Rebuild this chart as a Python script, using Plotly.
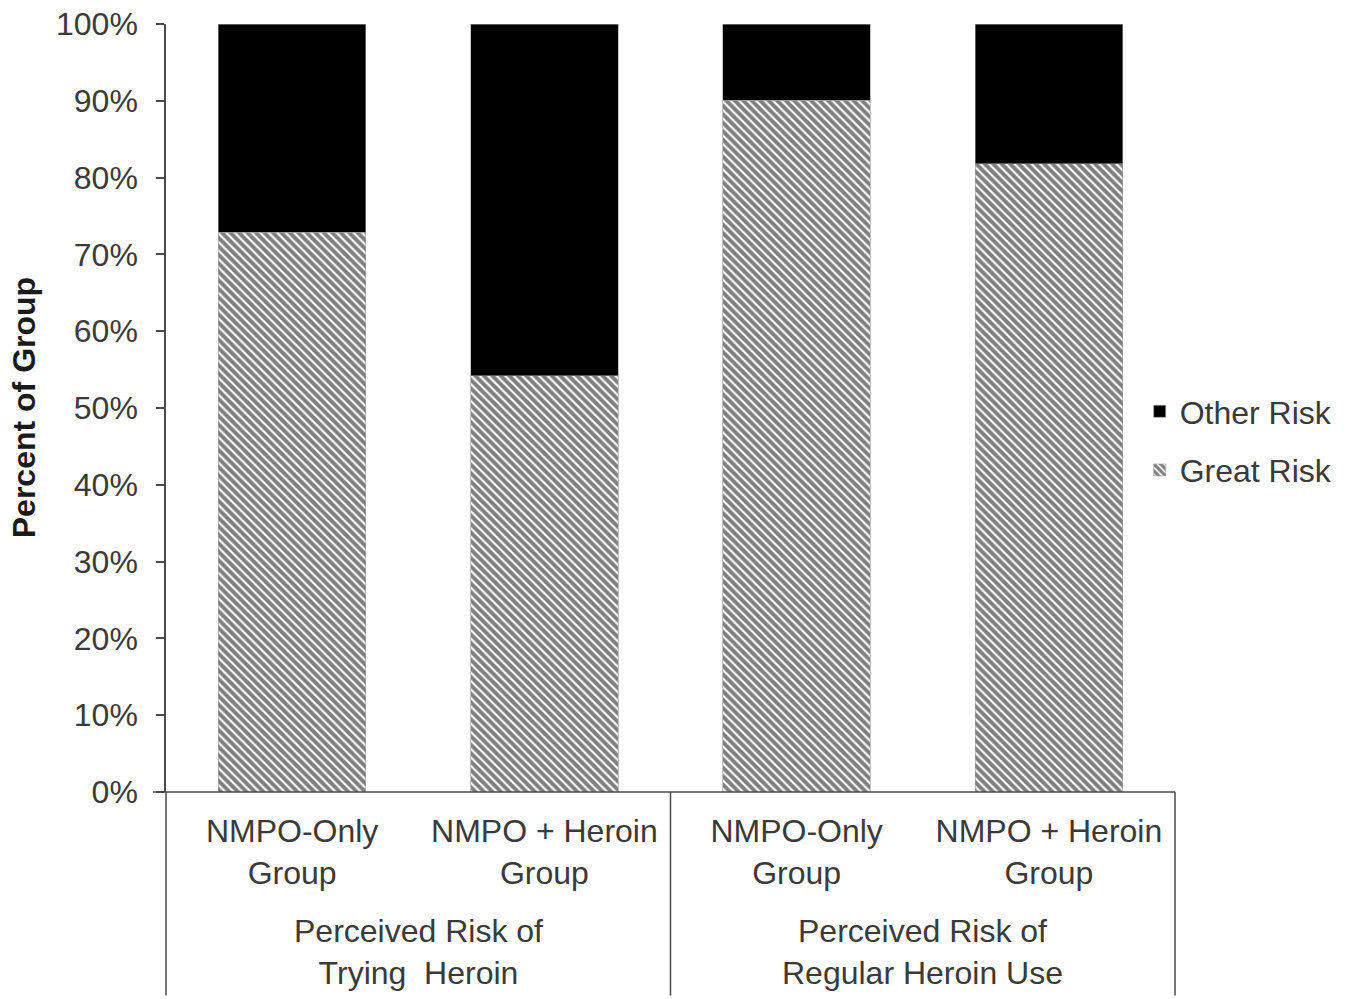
import plotly.graph_objects as go

groups = ["Perceived Risk of<br>Trying  Heroin", "Perceived Risk of<br>Regular Heroin Use"]
subgroups = ["NMPO-Only<br>Group", "NMPO + Heroin<br>Group", "NMPO-Only<br>Group", "NMPO + Heroin<br>Group"]
group_of_bar = [0, 0, 1, 1]
great_risk = [72.9, 54.2, 90.1, 81.8]
other_risk = [round(100 - v, 1) for v in great_risk]
y_ticks = [0, 10, 20, 30, 40, 50, 60, 70, 80, 90, 100]

xpos = list(range(len(subgroups)))
FONT = "Liberation Sans, Arial, sans-serif"
TXT = "#3a3a3a"
LINE = "#4a4a4a"
FS = 32

fig = go.Figure()
fig.add_trace(go.Bar(
    x=xpos, y=great_risk, name="Great Risk", width=0.585,
    marker=dict(color="white", line=dict(color="#9a9a9a", width=0.6),
                pattern=dict(shape="\\", fgcolor="black", bgcolor="white", size=6, solidity=0.66)),
    legendgroup="g", legendrank=2, showlegend=True,
))
fig.add_trace(go.Bar(
    x=xpos, y=other_risk, name="Other Risk", width=0.585,
    marker=dict(color="black", line=dict(color="#9a9a9a", width=0.6)),
    legendgroup="o", legendrank=1, showlegend=True,
))

shapes = []
shapes.append(dict(type="line", xref="paper", yref="paper", x0=-0.013, x1=1.0, y0=0, y1=0,
                   line=dict(color=LINE, width=1.5)))
for xp in [0, 0.5, 1.0]:
    shapes.append(dict(type="line", xref="paper", yref="paper", x0=xp, x1=xp, y0=0, y1=-0.265,
                       line=dict(color=LINE, width=1.5)))

annotations = []
n_per_group = {}
for i, g in enumerate(group_of_bar):
    n_per_group.setdefault(g, []).append(xpos[i])
for g, xs in n_per_group.items():
    annotations.append(dict(text=groups[g], x=sum(xs) / len(xs), xref="x", y=-0.208, yref="paper",
                            showarrow=False, xanchor="center", yanchor="middle",
                            font=dict(family=FONT, size=FS, color=TXT)))
annotations.append(dict(text="<b>Percent of Group</b>", x=-0.1405, xref="paper", y=0.5, yref="paper",
                        textangle=-90, showarrow=False, xanchor="center", yanchor="middle",
                        font=dict(family=FONT, size=32, color="#1a1a1a")))

fig.update_layout(
    barmode="stack",
    width=1363, height=999,
    margin=dict(l=166, r=188, t=24, b=207, autoexpand=False),
    paper_bgcolor="white", plot_bgcolor="white",
    showlegend=True,
    legend=dict(x=0.965, y=0.457, xanchor="left", yanchor="middle", traceorder="grouped",
                tracegroupgap=14, font=dict(family=FONT, size=FS, color=TXT),
                itemwidth=30, bgcolor="rgba(0,0,0,0)"),
    xaxis=dict(range=[-0.5, 3.5], tickmode="array", tickvals=xpos, ticktext=subgroups,
               showgrid=False, zeroline=False, showline=False, ticks="", automargin=False,
               tickfont=dict(family=FONT, size=FS, color=TXT), ticklabelstandoff=17),
    yaxis=dict(range=[0, 100], tickmode="array", tickvals=y_ticks, automargin=False,
               ticktext=[f"{v}%" for v in y_ticks], showgrid=False, zeroline=False,
               showline=True, linecolor=LINE, linewidth=1.5, ticks="outside", ticklen=8,
               tickcolor=LINE, tickwidth=1.5, ticklabeloverflow="allow", ticklabelstandoff=12,
               tickfont=dict(family=FONT, size=FS, color=TXT)),
    shapes=shapes, annotations=annotations,
)

fig.write_html("out.html", config={"displayModeBar": False},
               post_script="document.body.style.margin='0';")
